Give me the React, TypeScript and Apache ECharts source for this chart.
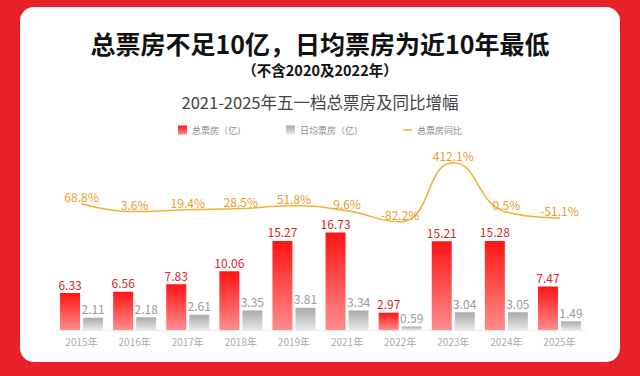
import React, { useEffect, useRef } from 'react';
import * as echarts from 'echarts';

const categories = ['2015年', '2016年', '2017年', '2018年', '2019年', '2021年', '2022年', '2023年', '2024年', '2025年'];
const totalBoxOffice = [6.33, 6.56, 7.83, 10.06, 15.27, 16.73, 2.97, 15.21, 15.28, 7.47];
const dailyBoxOffice = [2.11, 2.18, 2.61, 3.35, 3.81, 3.34, 0.59, 3.04, 3.05, 1.49];
const yoyGrowth = [68.8, 3.6, 19.4, 28.5, 51.8, 9.6, -82.2, 412.1, 0.5, -51.1];
const seriesNames = ['总票房（亿）', '日均票房（亿）', '总票房同比'];
const mainTitle = '总票房不足10亿，日均票房为近10年最低';
const subTitle = '（不含2020及2022年）';
const chartTitle = '2021-2025年五一档总票房及同比增幅';

const FONT = '"Noto Sans CJK SC", "Noto Sans", sans-serif';

export default function App() {
  const ref = useRef<HTMLDivElement>(null);
  useEffect(() => {
    document.body.style.margin = '0';
    const chart = echarts.init(ref.current!, null, { renderer: 'svg' });
    const redGrad = new echarts.graphic.LinearGradient(0, 0, 0, 1, [
      { offset: 0, color: '#ff1414' },
      { offset: 1, color: '#ff8c8c' },
    ]);
    const grayGrad = new echarts.graphic.LinearGradient(0, 0, 0, 1, [
      { offset: 0, color: '#a9a9a9' },
      { offset: 1, color: '#e8e8e8' },
    ]);
    chart.setOption({
      animation: false,
      backgroundColor: '#e8202a',
      textStyle: { fontFamily: FONT },
      graphic: [
        {
          type: 'rect',
          z: -10,
          shape: { x: 20, y: 7, width: 600, height: 355, r: 14 },
          style: { fill: '#ffffff' },
        },
      ],
      title: [
        {
          text: mainTitle,
          left: 'center',
          top: 25,
          padding: 5,
          textStyle: { fontSize: 25, fontWeight: 'bold', color: '#111', lineHeight: 26, fontFamily: FONT },
        },
        {
          text: subTitle,
          left: 'center',
          top: 56.5,
          padding: 5,
          textStyle: { fontSize: 14.5, fontWeight: 'bold', color: '#111', lineHeight: 16, fontFamily: FONT },
        },
        {
          text: chartTitle,
          left: 'center',
          top: 86.5,
          padding: 5,
          textStyle: { fontSize: 16.5, fontWeight: 'normal', color: '#444', lineHeight: 20, fontFamily: FONT },
        },
      ],
      legend: {
        top: 120.5,
        left: 'center',
        itemWidth: 9,
        itemHeight: 9,
        itemGap: 40,
        textStyle: { fontSize: 9, color: '#888', fontFamily: FONT },
        data: [
          { name: seriesNames[0], icon: 'rect' },
          { name: seriesNames[1], icon: 'rect' },
          { name: seriesNames[2], icon: 'path://M0,0H10V1.6H0Z' },
        ],
      },
      grid: { left: 55, width: 531, top: 150, height: 180, containLabel: false },
      xAxis: {
        type: 'category',
        data: categories,
        axisTick: { show: false },
        axisLine: { lineStyle: { color: '#ececec' } },
        axisLabel: { color: '#aaa', fontSize: 10, margin: 6, fontFamily: FONT },
      },
      yAxis: [
        { type: 'value', min: 0, max: 30.87, show: false, splitLine: { show: false } },
        { type: 'value', min: -988, max: 519, show: false, splitLine: { show: false } },
      ],
      series: [
        {
          name: seriesNames[0],
          type: 'bar',
          data: totalBoxOffice,
          barWidth: 20,
          barGap: '15%',
          itemStyle: { color: redGrad },
          label: { show: true, position: 'top', distance: 3, color: '#d8242c', fontSize: 12, fontFamily: FONT },
        },
        {
          name: seriesNames[1],
          type: 'bar',
          data: dailyBoxOffice,
          barWidth: 20,
          itemStyle: { color: grayGrad },
          label: { show: true, position: 'top', distance: 3, color: '#999', fontSize: 12, fontFamily: FONT },
        },
        {
          name: seriesNames[2],
          type: 'line',
          yAxisIndex: 1,
          data: yoyGrowth,
          smooth: true,
          symbol: 'circle',
          symbolSize: 1,
          itemStyle: { color: '#f0b232' },
          lineStyle: { color: '#f0b232', width: 1.5 },
          label: {
            show: true,
            position: 'top',
            distance: 1,
            color: '#e99a2a',
            fontSize: 12,
            fontFamily: FONT,
            formatter: '{c}%',
          },
        },
      ],
    });
    return () => chart.dispose();
  }, []);
  return (
    <div style={{ position: 'fixed', left: 0, top: 0, width: 640, height: 376 }}>
      <div ref={ref} style={{ width: 640, height: 376 }} />
    </div>
  );
}
